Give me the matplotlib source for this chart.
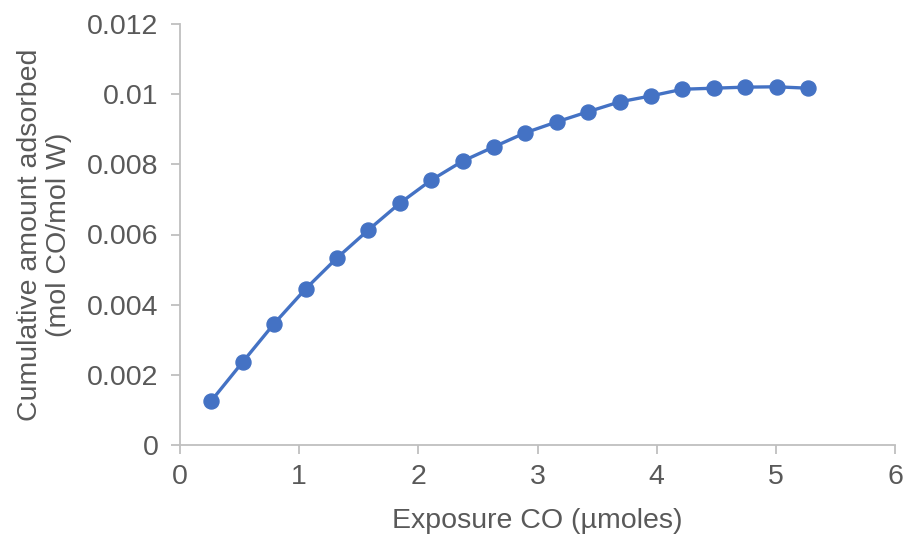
import matplotlib.pyplot as plt

plt.rcParams["font.family"] = ["Liberation Sans", "DejaVu Sans"]

exposure = [0.263, 0.527, 0.790, 1.054, 1.317, 1.581, 1.844, 2.108, 2.371, 2.635,
            2.898, 3.162, 3.425, 3.689, 3.952, 4.216, 4.479, 4.743, 5.006, 5.270]
adsorbed = [0.00126, 0.00237, 0.00346, 0.00445, 0.00533, 0.00613, 0.00689, 0.00755,
            0.00809, 0.00850, 0.00890, 0.00921, 0.00950, 0.00978, 0.00995, 0.01014,
            0.01017, 0.01020, 0.01021, 0.01017]

x_ticks = [0, 1, 2, 3, 4, 5, 6]
y_ticks = [0, 0.002, 0.004, 0.006, 0.008, 0.010, 0.012]
y_tick_labels = ["0", "0.002", "0.004", "0.006", "0.008", "0.01", "0.012"]

blue = "#4472C4"
grey = "#595959"
axis_grey = "#BFBFBF"

fig = plt.figure(figsize=(9.05, 5.37), dpi=100)
ax = fig.add_axes([180 / 905, 1 - 445 / 537, 715 / 905, 421 / 537])

ax.plot(exposure, adsorbed, color=blue, linewidth=2.4, marker="o",
        markersize=10.8, markerfacecolor=blue, markeredgecolor=blue)

ax.set_xlim(0, 6)
ax.set_ylim(0, 0.012)
ax.set_xticks(x_ticks)
ax.set_yticks(y_ticks)
ax.set_yticklabels(y_tick_labels)

for side in ["top", "right"]:
    ax.spines[side].set_visible(False)
for side in ["left", "bottom"]:
    ax.spines[side].set_color(axis_grey)
    ax.spines[side].set_linewidth(1.3)

ax.tick_params(axis="both", direction="out", length=6.5, width=1.3,
               color=axis_grey, labelcolor=grey, labelsize=20.5)
ax.tick_params(axis="y", pad=9)
ax.tick_params(axis="x", pad=7)

ax.set_xlabel("Exposure CO (µmoles)", fontsize=20.5, color=grey, labelpad=13)
ax.set_ylabel("Cumulative amount adsorbed\n(mol CO/mol W)", fontsize=20.5,
              color=grey, labelpad=11, linespacing=1.15)

fig.savefig("out.png", dpi=100)
